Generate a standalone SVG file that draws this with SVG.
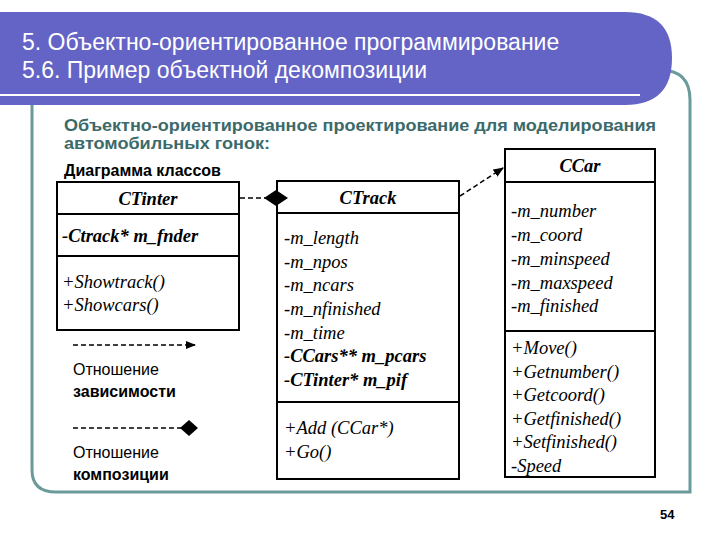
<svg xmlns="http://www.w3.org/2000/svg" width="720" height="540" viewBox="0 0 720 540">
<style>
.box{fill:#fff;stroke:#000;stroke-width:2}
.ln{stroke:#000;stroke-width:2}
.t{font-family:"Liberation Serif",serif;font-size:18.5px;font-style:italic}
.b{font-weight:bold}
.s{font-family:"Liberation Sans",sans-serif;font-size:16px}
.dash{stroke:#000;stroke-width:1.5;stroke-dasharray:5,3;fill:none}
</style>
<defs>
<marker id="arr" viewBox="0 0 10 10" refX="9" refY="5" markerWidth="7" markerHeight="7" orient="auto"><path d="M0,1 L10,5 L0,9 z" fill="#000"/></marker>
</defs>
<rect width="720" height="540" fill="#fff"/>
<path d="M32,80 L32,470 Q32,492 56,492 L690,492 L690,100 Q690,70 660,70" fill="none" stroke="#6a9a9a" stroke-width="3"/>
<path d="M0,12 L625,12 Q672,12 672,58 Q672,105 625,105 L0,105 z" fill="#6464c6"/>
<line x1="0" y1="95" x2="640" y2="95" stroke="#fff" stroke-width="2"/>
<text x="22" y="50" font-family="Liberation Sans,sans-serif" font-size="23" fill="#fff">5. Объектно-ориентированное программирование</text>
<text x="22" y="78" font-family="Liberation Sans,sans-serif" font-size="23" fill="#fff">5.6. Пример объектной декомпозиции</text>
<text x="64" y="131" class="s" fill="#3c6a6a" font-size="16" font-weight="bold" textLength="592" lengthAdjust="spacingAndGlyphs">Объектно-ориентированное проектирование для моделирования</text>
<text x="64" y="149" class="s" fill="#3c6a6a" font-size="16" font-weight="bold" textLength="206" lengthAdjust="spacingAndGlyphs">автомобильных гонок:</text>
<text x="64" y="176" class="s" font-weight="bold">Диаграмма классов</text>
<g id="ctinter">
<rect class="box" x="57" y="182" width="182" height="148"/>
<line class="ln" x1="57" y1="214" x2="239" y2="214"/>
<line class="ln" x1="57" y1="256" x2="239" y2="256"/>
<text class="t b" x="148" y="205" text-anchor="middle">CTinter</text>
<text class="t b" x="62" y="242">-Ctrack* m_fnder</text>
<text class="t" x="62" y="288">+Showtrack()</text>
<text class="t" x="62" y="311">+Showcars()</text>
</g>
<g id="ctrack">
<rect class="box" x="277" y="181" width="182" height="298"/>
<line class="ln" x1="277" y1="213" x2="459" y2="213"/>
<line class="ln" x1="277" y1="402" x2="459" y2="402"/>
<text class="t b" x="368" y="204" text-anchor="middle">CTrack</text>
<text class="t" x="284" y="244">-m_length</text>
<text class="t" x="284" y="268">-m_npos</text>
<text class="t" x="284" y="291">-m_ncars</text>
<text class="t" x="284" y="315">-m_nfinished</text>
<text class="t" x="284" y="339">-m_time</text>
<text class="t b" x="284" y="362">-CCars**  m_pcars</text>
<text class="t b" x="284" y="386">-CTinter* m_pif</text>
<text class="t" x="284" y="434">+Add (CCar*)</text>
<text class="t" x="284" y="458">+Go()</text>
</g>
<g id="ccar">
<rect class="box" x="505" y="149" width="150" height="328"/>
<line class="ln" x1="505" y1="182" x2="655" y2="182"/>
<line class="ln" x1="505" y1="331" x2="655" y2="331"/>
<text class="t b" x="580" y="172" text-anchor="middle">CCar</text>
<text class="t" x="511" y="217">-m_number</text>
<text class="t" x="511" y="241">-m_coord</text>
<text class="t" x="511" y="265">-m_minspeed</text>
<text class="t" x="511" y="289">-m_maxspeed</text>
<text class="t" x="511" y="312">-m_finished</text>
<text class="t" x="511" y="354">+Move()</text>
<text class="t" x="511" y="378">+Getnumber()</text>
<text class="t" x="511" y="401">+Getcoord()</text>
<text class="t" x="511" y="425">+Getfinished()</text>
<text class="t" x="511" y="448">+Setfinished()</text>
<text class="t" x="511" y="472">-Speed</text>
</g>
<g id="connectors">
<line class="dash" x1="240" y1="198" x2="266" y2="198"/>
<path d="M264,198 L276,190 L288,198 L276,206 z" fill="#000"/>
<line class="dash" x1="460" y1="196" x2="503" y2="168" marker-end="url(#arr)"/>
</g>
<g id="legend">
<line class="dash" x1="73" y1="345" x2="195" y2="345" marker-end="url(#arr)"/>
<text class="s" x="73" y="375">Отношение</text>
<text class="s" x="73" y="397" font-weight="bold">зависимости</text>
<line class="dash" x1="73" y1="428" x2="182" y2="428"/>
<path d="M180,428 L189,420 L198,428 L189,436 z" fill="#000"/>
<text class="s" x="73" y="458">Отношение</text>
<text class="s" x="73" y="480" font-weight="bold">композиции</text>
</g>
<text x="660" y="519" font-family="Liberation Sans,sans-serif" font-size="13" font-weight="bold">54</text>
</svg>
